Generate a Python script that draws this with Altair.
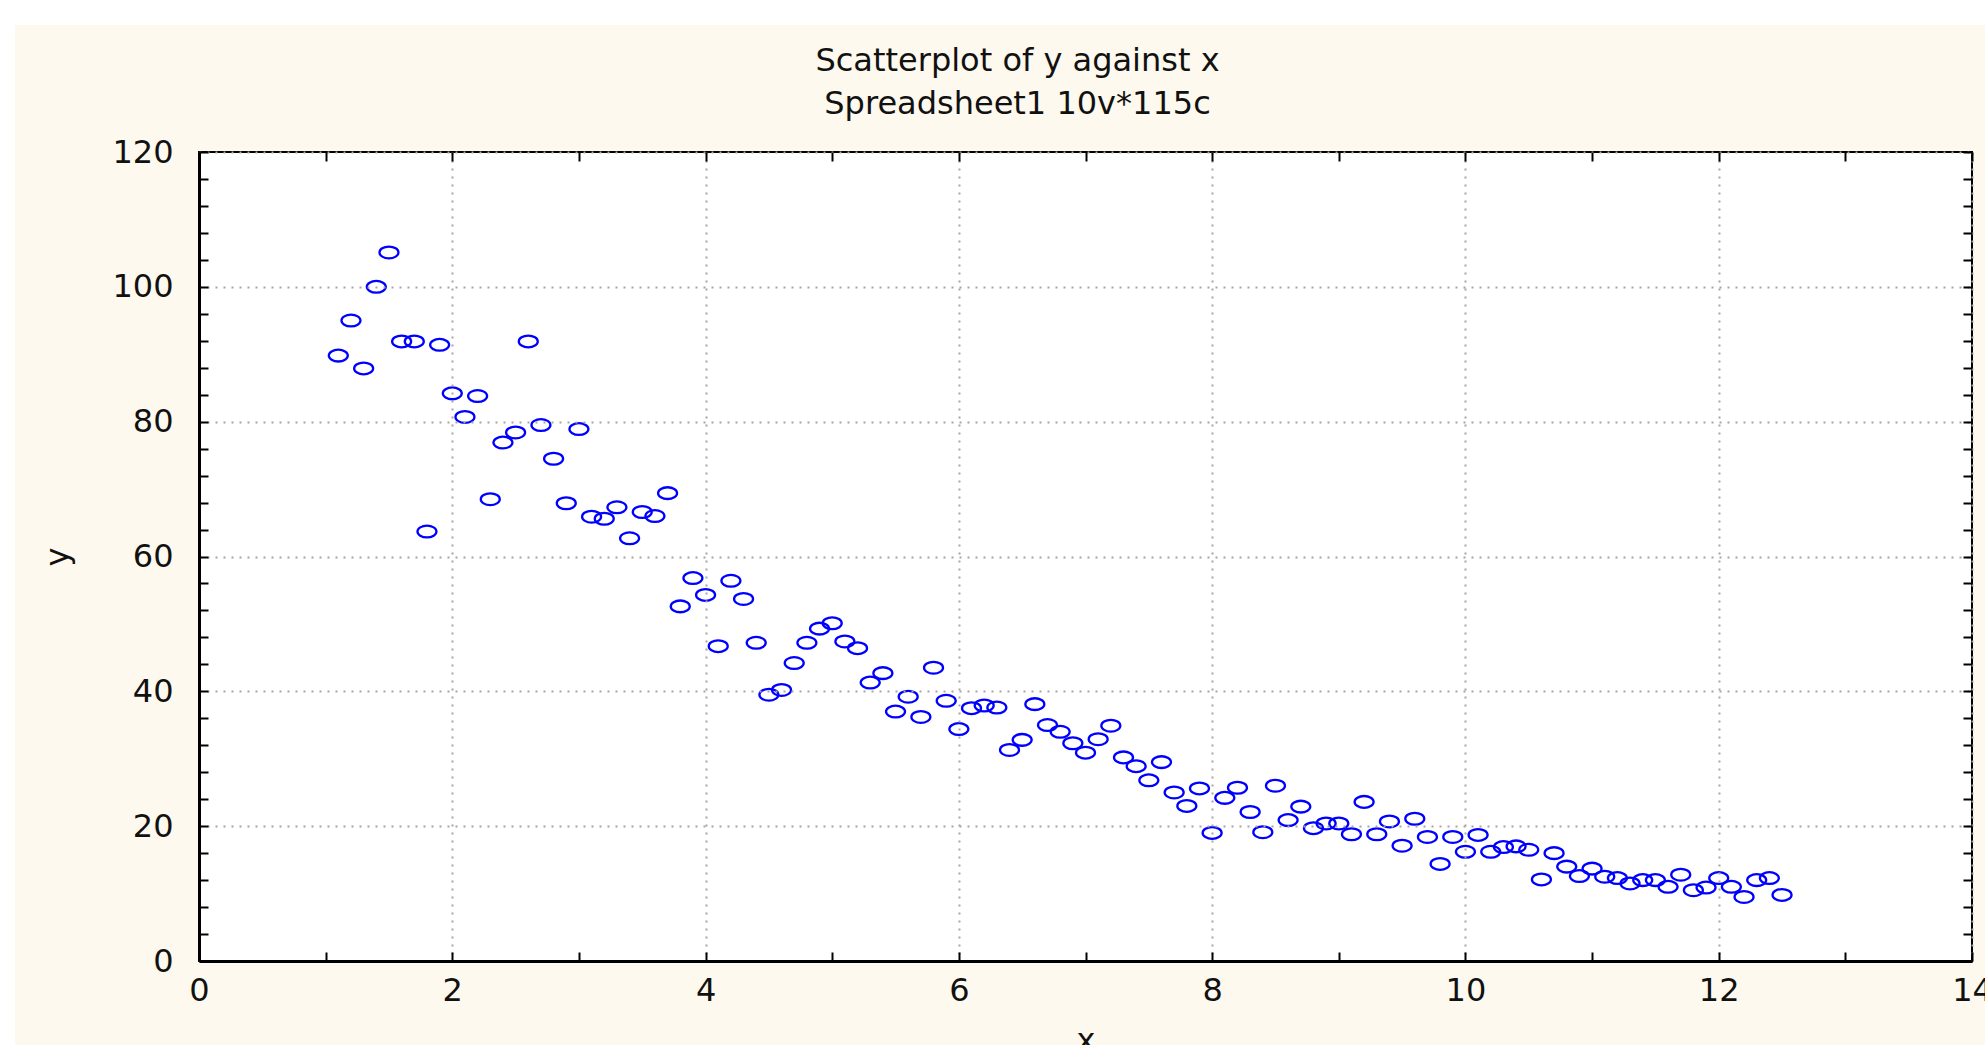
import altair as alt
import pandas as pd

# ---- data ----
x_values = [1.1, 1.2, 1.3, 1.4, 1.5, 1.6, 1.7, 1.8, 1.9, 2.0,
            2.1, 2.2, 2.3, 2.4, 2.5, 2.6, 2.7, 2.8, 2.9, 3.0,
            3.1, 3.2, 3.3, 3.4, 3.5, 3.6, 3.7, 3.8, 3.9, 4.0,
            4.1, 4.2, 4.3, 4.4, 4.5, 4.6, 4.7, 4.8, 4.9, 5.0,
            5.1, 5.2, 5.3, 5.4, 5.5, 5.6, 5.7, 5.8, 5.9, 6.0,
            6.1, 6.2, 6.3, 6.4, 6.5, 6.6, 6.7, 6.8, 6.9, 7.0,
            7.1, 7.2, 7.3, 7.4, 7.5, 7.6, 7.7, 7.8, 7.9, 8.0,
            8.1, 8.2, 8.3, 8.4, 8.5, 8.6, 8.7, 8.8, 8.9, 9.0,
            9.1, 9.2, 9.3, 9.4, 9.5, 9.6, 9.7, 9.8, 9.9, 10.0,
            10.1, 10.2, 10.3, 10.4, 10.5, 10.6, 10.7, 10.8, 10.9, 11.0,
            11.1, 11.2, 11.3, 11.4, 11.5, 11.6, 11.7, 11.8, 11.9, 12.0,
            12.1, 12.2, 12.3, 12.4, 12.5]

y_values = [89.8, 95.0, 87.9, 100.0, 105.1, 91.9, 91.9, 63.7, 91.4, 84.2,
            80.7, 83.8, 68.5, 76.9, 78.4, 91.9, 79.5, 74.5, 67.9, 78.9,
            65.9, 65.6, 67.3, 62.7, 66.6, 66.0, 69.4, 52.6, 56.8, 54.3,
            46.7, 56.4, 53.7, 47.2, 39.5, 40.2, 44.2, 47.2, 49.3, 50.1,
            47.4, 46.4, 41.3, 42.7, 37.0, 39.2, 36.2, 43.5, 38.6, 34.4,
            37.5, 37.9, 37.6, 31.3, 32.8, 38.1, 35.0, 34.0, 32.3, 30.9,
            32.9, 34.9, 30.2, 28.9, 26.8, 29.5, 25.0, 23.0, 25.6, 19.0,
            24.2, 25.7, 22.1, 19.1, 26.0, 20.9, 22.9, 19.7, 20.4, 20.4,
            18.8, 23.6, 18.8, 20.7, 17.1, 21.1, 18.4, 14.4, 18.4, 16.2,
            18.7, 16.2, 16.9, 17.0, 16.5, 12.1, 16.0, 14.0, 12.6, 13.7,
            12.5, 12.3, 11.5, 12.0, 12.0, 11.0, 12.8, 10.5, 10.9, 12.3,
            11.0, 9.5, 12.0, 12.3, 9.8]

x_major_ticks = [0, 2, 4, 6, 8, 10, 12, 14]
y_major_ticks = [0, 20, 40, 60, 80, 100, 120]
x_minor_ticks = [0, 1, 2, 3, 4, 5, 6, 7, 8, 9, 10, 11, 12, 13, 14]
y_minor_ticks = [0, 4, 8, 12, 16, 20, 24, 28, 32, 36, 40, 44, 48, 52, 56, 60,
                 64, 68, 72, 76, 80, 84, 88, 92, 96, 100, 104, 108, 112, 116, 120]

title_lines = ["Scatterplot of y against x", "Spreadsheet1 10v*115c"]

# ---- layout / style ----
W, H = 1773, 809
PAD = {"left": 199, "top": 152, "right": 13, "bottom": 84}
CREAM = "#FEF9EE"
BLUE = "#0000FF"
FONT = "DejaVu Sans"
ELLIPSE = "M -1 0 A 1 0.62 0 1 0 1 0 A 1 0.62 0 1 0 -1 0 Z"
TICK = 9
TITLE_X = W / 2 - 68
TITLE_Y = [-91, -48]

df = pd.DataFrame({"x": x_values, "y": y_values})
dummy = alt.Data(values=[{"k": 0}])

xscale = alt.Scale(domain=[0, 14], nice=False, zero=False)
yscale = alt.Scale(domain=[0, 120], nice=False, zero=False)

bg = alt.Chart(dummy).mark_rect(fill=CREAM, strokeWidth=0).encode(
    x=alt.value(-(PAD["left"] - 15)), x2=alt.value(W + PAD["right"]),
    y=alt.value(-(PAD["top"] - 25)), y2=alt.value(H + PAD["bottom"]),
)

plot_bg = alt.Chart(dummy).mark_rect(fill="white", stroke="black", strokeWidth=2).encode(
    x=alt.value(0), x2=alt.value(W), y=alt.value(0), y2=alt.value(H),
)

title_marks = [
    alt.Chart(dummy).mark_text(
        font=FONT, fontSize=32, color="#111111", align="center", baseline="middle"
    ).encode(x=alt.value(TITLE_X), y=alt.value(ty), text=alt.value(line))
    for line, ty in zip(title_lines, TITLE_Y)
]

grid_style = dict(grid=True, gridDash=[2, 6], gridColor="#a5a5a5", gridWidth=2)

points = alt.Chart(df).mark_point(
    shape=ELLIPSE, size=360, filled=False, color=BLUE, strokeWidth=2.3, opacity=1
).encode(
    x=alt.X("x:Q", scale=xscale, axis=alt.Axis(
        orient="bottom", values=x_major_ticks, format="d", title="x",
        ticks=False, domain=True, domainColor="black", domainWidth=3,
        labelFont=FONT, labelFontSize=32, labelColor="#111111", labelPadding=14,
        labelFlush=False, labelOverlap=False,
        titleFont=FONT, titleFontSize=32, titleFontWeight="normal", titleColor="#111111",
        titleY=64, titleBaseline="top", zindex=1, **grid_style)),
    y=alt.Y("y:Q", scale=yscale, axis=alt.Axis(
        orient="left", values=y_major_ticks, format="d", title="y",
        ticks=False, domain=True, domainColor="black", domainWidth=3,
        labelFont=FONT, labelFontSize=32, labelColor="#111111", labelPadding=26,
        labelFlush=False, labelOverlap=False,
        titleFont=FONT, titleFontSize=32, titleFontWeight="normal", titleColor="#111111",
        titleX=-142, titleY=H / 2, titleAngle=270, titleBaseline="middle",
        zindex=1, **grid_style)),
)

tick_style = dict(ticks=True, tickSize=TICK, tickColor="black", tickWidth=2,
                  domain=False, labels=False, grid=False, title="", zindex=1)

ticks_bl = alt.Chart(df).mark_point(opacity=0, size=1).encode(
    x=alt.X("x:Q", scale=xscale, axis=alt.Axis(orient="bottom", values=x_minor_ticks,
                                                offset=-TICK, **tick_style)),
    y=alt.Y("y:Q", scale=yscale, axis=alt.Axis(orient="left", values=y_minor_ticks,
                                                offset=-TICK, **tick_style)),
)

ticks_tr = alt.Chart(df).mark_point(opacity=0, size=1).encode(
    x=alt.X("x:Q", scale=xscale, axis=alt.Axis(orient="top", values=x_minor_ticks,
                                                offset=-TICK, **tick_style)),
    y=alt.Y("y:Q", scale=yscale, axis=alt.Axis(orient="right", values=y_minor_ticks,
                                                offset=-TICK, **tick_style)),
)

chart = alt.layer(bg, plot_bg, *title_marks, points, ticks_bl, ticks_tr).resolve_axis(
    x="independent", y="independent"
).properties(
    width=W, height=H,
    autosize=alt.AutoSizeParams(type="none"),
    padding=PAD,
    background="white",
).configure_view(stroke="transparent")

chart.save("out.html", embed_options={"renderer": "svg", "actions": False})
